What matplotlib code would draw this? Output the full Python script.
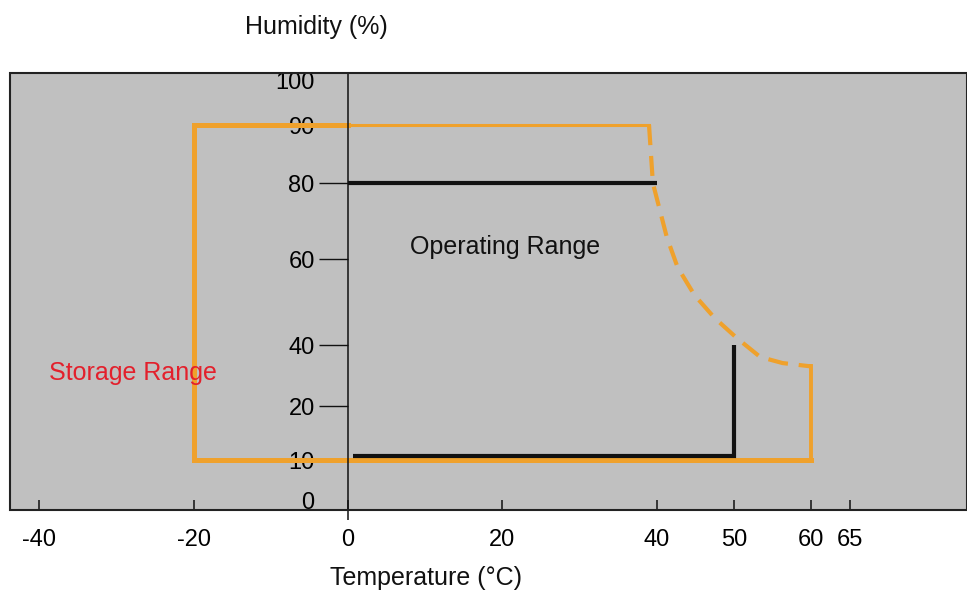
import numpy as np
import matplotlib
matplotlib.use("Agg")
import matplotlib.pyplot as plt
from matplotlib.patches import Rectangle

plt.rcParams['font.family'] = ['Liberation Sans', 'DejaVu Sans']

# ---- data (temperature in degC, humidity in %) ----
temp_ticks = [-40, -20, 0, 20, 40, 50, 60, 65]
hum_ticks = [0, 10, 20, 40, 60, 80, 90, 100]
hum_marked = [20, 40, 60, 80]

# storage range (orange)
storage_box_t = [0, -20, -20, 60]
storage_box_h = [90, 90, 10, 10]
storage_top_t = [0, 39]
storage_top_h = [90, 90]
storage_right_t = [60, 60]
storage_right_h = [10, 33]
storage_curve_t = [39.0, 39.5, 40.4, 41.3, 42.7, 44.9, 47.5, 50.4, 53.4, 56.3, 60.0]
storage_curve_h = [90, 80, 72.9, 65.8, 58.1, 51.6, 46.3, 41.6, 36.1, 34.1, 33]

# operating range (black)
oper_top_t = [0, 40]
oper_top_h = [80, 80]
oper_low_t = [0.7, 50, 50]
oper_low_h = [10.8, 10.8, 40]

# ---- non-uniform humidity axis (the drawing spaces its ticks unevenly) ----
scale_h = np.array([-1000, 0, 10, 20, 40, 60, 80, 90, 100, 1000], dtype=float)
scale_v = np.array([-3990, 10, 50, 104, 165, 251, 327, 385, 430, 4480], dtype=float)

def fwd(h):
    return np.interp(h, scale_h, scale_v)

def inv(v):
    return np.interp(v, scale_v, scale_h)

ORANGE = '#EFA12C'
GRAY = '#C0C0C0'

fig = plt.figure(figsize=(9.67, 5.91), dpi=100)
ax = fig.add_axes([10/967, 81/591, 957/967, 437/591])
ax.set_facecolor(GRAY)
ax.set_yscale('function', functions=(fwd, inv))
ax.set_xlim(-43.8, 80.2)
ax.set_ylim(-2.5, 101.6)

# storage range
ax.plot(storage_box_t, storage_box_h, color=ORANGE, lw=3.6, solid_joinstyle='miter')
ax.plot(storage_top_t, storage_top_h, color=ORANGE, lw=2.2)
ax.plot(storage_right_t, storage_right_h, color=ORANGE, lw=2.8)
ax.plot(storage_curve_t, storage_curve_h, color=ORANGE, lw=3.0,
        dashes=(4.8, 2.6), dash_capstyle='butt')

# operating range
ax.plot(oper_top_t, oper_top_h, color='#111111', lw=3.0, solid_capstyle='butt')
ax.plot(oper_low_t, oper_low_h, color='#111111', lw=3.0, solid_capstyle='butt',
        solid_joinstyle='miter')

# axes styling
for s in ['top', 'right', 'bottom']:
    ax.spines[s].set_visible(False)
ax.spines['left'].set_position(('data', 0))
ax.spines['left'].set_linewidth(1.1)
ax.spines['left'].set_color('#111111')
ax.add_patch(Rectangle((0, 0), 1, 1, transform=ax.transAxes, fill=False,
                       ec='#222222', lw=1.5, clip_on=False, zorder=3))

ax.xaxis.remove_overlapping_locs = False
ax.yaxis.remove_overlapping_locs = False

ax.set_xticks(temp_ticks)
ax.set_xticklabels([str(t) for t in temp_ticks])
ax.set_xticks([0], minor=True)
ax.xaxis.set_minor_formatter(plt.NullFormatter())
ax.tick_params(axis='x', which='major', direction='in', length=7.5, width=1.1,
               color='#111111', labelsize=17, pad=14)
ax.tick_params(axis='x', which='minor', direction='out', length=7, width=1.1,
               color='#111111')

ax.set_yticks(hum_ticks)
ax.set_yticklabels([str(h) for h in hum_ticks])
ax.set_yticks(hum_marked, minor=True)
ax.yaxis.set_minor_formatter(plt.NullFormatter())
ax.tick_params(axis='y', which='major', length=0, labelsize=17, pad=24)
ax.tick_params(axis='y', which='minor', direction='out', length=21, width=1.0,
               color='#111111')

ax.text(20.3, 63.2, 'Operating Range', fontsize=18, ha='center', va='center',
        color='#111111')
ax.text(-27.85, 30.8, 'Storage Range', fontsize=18, ha='center', va='center',
        color='#E3202C')

fig.text(316/967, 1 - 27/591, 'Humidity (%)', fontsize=18, ha='center',
         va='center', color='#111111')
fig.text(426/967, 1 - 578/591, 'Temperature (°C)', fontsize=18, ha='center',
         va='center', color='#111111')

fig.savefig('out.png', dpi=100)
